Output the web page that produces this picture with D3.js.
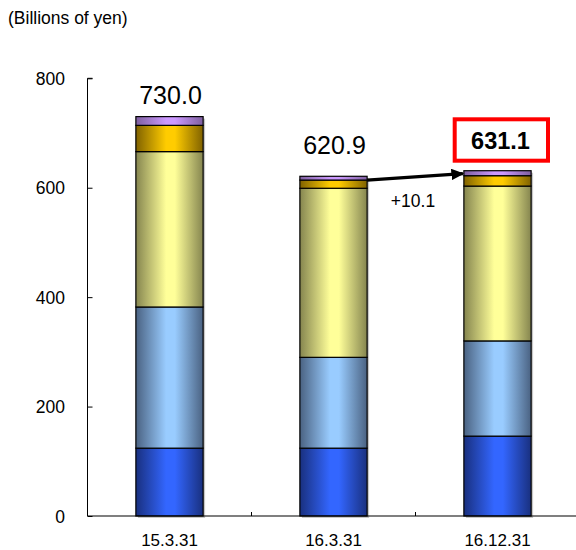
<!DOCTYPE html>
<html>
<head>
<meta charset="utf-8">
<script src="https://cdn.jsdelivr.net/npm/d3@7"></script>
<style>
  html, body { margin: 0; padding: 0; background: #fff; }
  svg { display: block; font-family: "Liberation Sans", Arial, sans-serif; }
</style>
</head>
<body>
<svg id="chart" width="576" height="550"></svg>
<script>
// Period-end dates
const categories = ["15.3.31", "16.3.31", "16.12.31"];
// Stacked components, bottom to top (billions of yen)
const seriesBlue      = [124, 124, 146];
const seriesLightBlue = [258, 166, 174];
const seriesYellow    = [284, 309, 283];
const seriesGold      = [48, 15, 19];
const seriesPurple    = [16, 6.9, 9.1];
const totals          = [730.0, 620.9, 631.1];
const totalLabels     = ["730.0", "620.9", "631.1"];
const changeLabel     = "+10.1";
const yTicks          = [0, 200, 400, 600, 800];

const seriesKeys = ["blue", "lightBlue", "yellow", "gold", "purple"];
const seriesData = [seriesBlue, seriesLightBlue, seriesYellow, seriesGold, seriesPurple];
const palette = {
  blue:      ["#19307f", "#3366ff"],
  lightBlue: ["#4a6282", "#99ccff"],
  yellow:    ["#85854f", "#ffff99"],
  gold:      ["#806200", "#ffcc00"],
  purple:    ["#7e5f9f", "#cc99ff"]
};

const rows = categories.map((c, i) => {
  const r = { cat: c };
  seriesKeys.forEach((k, j) => r[k] = seriesData[j][i]);
  return r;
});

const svg = d3.select("#chart");
const axisLeft = 87.5;

const x = d3.scaleBand().domain(categories).range([87.5, 579.5]).paddingInner(0.59).paddingOuter(0.295);
const y = d3.scaleLinear().domain([0, 800]).range([516, 78.3]);

// Horizontal cylinder-like gradients
const defs = svg.append("defs");
seriesKeys.forEach(k => {
  const g = defs.append("linearGradient").attr("id", "g-" + k)
    .attr("x1", "0%").attr("x2", "100%").attr("y1", "0%").attr("y2", "0%");
  const [dark, light] = palette[k];
  g.append("stop").attr("offset", "0%").attr("stop-color", dark);
  g.append("stop").attr("offset", "45%").attr("stop-color", light);
  g.append("stop").attr("offset", "58%").attr("stop-color", light);
  g.append("stop").attr("offset", "100%").attr("stop-color", dark);
});

const stack = d3.stack().keys(seriesKeys)(rows);

// Drop shadow behind each bar
svg.append("g").selectAll("rect").data(rows).join("rect")
  .attr("x", (d) => x(d.cat) + 2)
  .attr("y", (d, i) => y(totals[i]) + 2)
  .attr("width", x.bandwidth())
  .attr("height", (d, i) => y(0) - y(totals[i]))
  .attr("fill", "#c8c8c8");

// Stacked segments
svg.append("g").selectAll("g").data(stack).join("g")
  .attr("fill", d => `url(#g-${d.key})`)
  .selectAll("rect").data(d => d).join("rect")
  .attr("x", d => x(d.data.cat))
  .attr("y", d => y(d[1]))
  .attr("width", x.bandwidth())
  .attr("height", d => y(d[0]) - y(d[1]))
  .attr("stroke", "#000")
  .attr("stroke-width", 1.2);

// Y axis (inward ticks)
const yAxis = svg.append("g").attr("transform", `translate(${axisLeft},0)`)
  .call(d3.axisRight(y).tickValues(yTicks).tickSize(5).tickFormat(""));
yAxis.select(".domain").attr("stroke", "#000").attr("d", `M5,${y(800)}H0V${y(0)}`);
yAxis.selectAll(".tick line").attr("stroke", "#000");
svg.append("g").selectAll("text").data(yTicks).join("text")
  .attr("x", 65).attr("y", d => y(d) + 6.5)
  .attr("text-anchor", "end").attr("font-size", 17.5).attr("fill", "#000")
  .text(d => d);

// X axis line with category boundary ticks
svg.append("line").attr("x1", axisLeft).attr("x2", 576).attr("y1", y(0)).attr("y2", y(0))
  .attr("stroke", "#000").attr("stroke-width", 1.2);
const step = x.step();
svg.append("g").selectAll("line").data(categories.slice(1)).join("line")
  .attr("x1", d => x(d) - x.paddingInner() * step / 2).attr("x2", d => x(d) - x.paddingInner() * step / 2)
  .attr("y1", y(0)).attr("y2", y(0) - 4).attr("stroke", "#000");
svg.append("g").selectAll("text").data(categories).join("text")
  .attr("x", d => x(d) + x.bandwidth() / 2).attr("y", 545.5)
  .attr("text-anchor", "middle").attr("font-size", 17).attr("fill", "#000")
  .text(d => d);

// Unit label
svg.append("text").attr("x", 8).attr("y", 24).attr("font-size", 17.5).attr("fill", "#000")
  .text("(Billions of yen)");

// Total labels for the first two periods
const labelOffsets = [12.5, 22];
totals.slice(0, 2).forEach((t, i) => {
  const cx = x(categories[i]) + x.bandwidth() / 2;
  svg.append("text").attr("x", cx + 1).attr("y", y(t) - labelOffsets[i])
    .attr("text-anchor", "middle").attr("font-size", 25).attr("fill", "#000")
    .text(totalLabels[i]);
});

// Highlighted latest total
svg.append("rect").attr("x", 454.7).attr("y", 119.3).attr("width", 93.3).attr("height", 41.4)
  .attr("fill", "#fff").attr("stroke", "#ff0000").attr("stroke-width", 4);
svg.append("text").attr("x", 500.5).attr("y", 148.5)
  .attr("text-anchor", "middle").attr("font-size", 23.5).attr("font-weight", "bold").attr("fill", "#000")
  .text(totalLabels[2]);

// Change arrow between the last two periods
defs.append("marker").attr("id", "arrow").attr("viewBox", "0 0 10 10")
  .attr("refX", 9).attr("refY", 5).attr("markerWidth", 4).attr("markerHeight", 3.6)
  .attr("orient", "auto").attr("preserveAspectRatio", "none")
  .append("path").attr("d", "M0,0L10,5L0,10Z").attr("fill", "#000");
const x2r = x(categories[1]) + x.bandwidth();
svg.append("line")
  .attr("x1", x2r).attr("y1", y(totals[1] - seriesPurple[1]))
  .attr("x2", x(categories[2]) - 1).attr("y2", y(totals[2]) + 3)
  .attr("stroke", "#000").attr("stroke-width", 3.2).attr("marker-end", "url(#arrow)");
svg.append("text").attr("x", 413).attr("y", 206.5).attr("text-anchor", "middle")
  .attr("font-size", 17.5).attr("fill", "#000").text(changeLabel);
</script>
</body>
</html>
